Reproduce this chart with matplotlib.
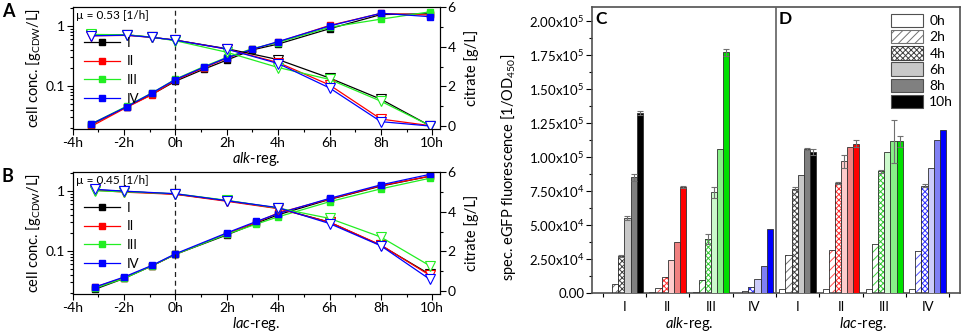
import numpy as np
import matplotlib
matplotlib.use("Agg")
import matplotlib.pyplot as plt
from matplotlib.patches import Patch
from matplotlib.ticker import MultipleLocator, FuncFormatter, FixedLocator, NullFormatter

plt.rcParams["font.family"] = ["Lato", "DejaVu Sans"]
plt.rcParams["mathtext.fontset"] = "custom"
plt.rcParams["mathtext.rm"] = "Lato"
plt.rcParams["mathtext.it"] = "Lato:italic"
plt.rcParams["mathtext.bf"] = "Lato:bold"
plt.rcParams["mathtext.default"] = "regular"
plt.rcParams["hatch.linewidth"] = 0.7

series_names = ["I", "II", "III", "IV"]
series_colors = ["#000000", "#ff0000", "#22ee22", "#0000ff"]

# panel A: alk-regulated, cell concentration (left, log) and citrate (right)
tA_cell = [-3.3, -1.9, -0.9, 0, 1.1, 2, 3, 4, 6, 8, 9.9]
A_cell_I = [0.0225, 0.045, 0.073, 0.12, 0.19, 0.27, 0.40, 0.50, 0.90, 1.55, 1.60]
A_cell_II = [0.021, 0.044, 0.072, 0.125, 0.20, 0.29, 0.41, 0.54, 1.02, 1.62, 1.52]
A_cell_III = [0.023, 0.046, 0.077, 0.13, 0.21, 0.30, 0.42, 0.53, 0.95, 1.30, 1.72]
A_cell_IV = [0.023, 0.045, 0.077, 0.128, 0.205, 0.295, 0.41, 0.55, 1.00, 1.63, 1.43]
tA_cit = [-3.3, -1.9, -0.9, 0, 2, 4, 6, 8, 9.9]
A_cit_I = [4.60, 4.60, 4.47, 4.33, 3.90, 3.35, 2.42, 1.35, 0.02]
A_cit_II = [4.55, 4.57, 4.47, 4.33, 3.88, 3.20, 2.07, 0.35, 0.02]
A_cit_III = [4.62, 4.60, 4.48, 4.30, 3.72, 2.95, 2.35, 1.25, 0.02]
A_cit_IV = [4.55, 4.58, 4.47, 4.33, 3.88, 3.15, 1.92, 0.22, 0.00]

# panel B: lac-regulated
tB_cell = [-3.15, -2.0, -0.9, 0, 2.0, 3.15, 4.0, 6.0, 8.0, 9.9]
B_cell_I = [0.023, 0.035, 0.057, 0.088, 0.185, 0.29, 0.40, 0.72, 1.20, 1.75]
B_cell_II = [0.025, 0.036, 0.057, 0.088, 0.195, 0.30, 0.43, 0.73, 1.22, 1.75]
B_cell_III = [0.024, 0.035, 0.057, 0.088, 0.19, 0.28, 0.37, 0.66, 1.08, 1.62]
B_cell_IV = [0.025, 0.037, 0.058, 0.090, 0.20, 0.31, 0.42, 0.75, 1.26, 1.88]
tB_cit = [-3.15, -2.0, 0, 2.0, 4.0, 6.0, 8.0, 9.9]
B_cit_I = [5.10, 5.02, 4.88, 4.55, 4.17, 3.47, 2.30, 0.85]
B_cit_II = [5.08, 4.98, 4.87, 4.52, 4.15, 3.47, 2.32, 0.80]
B_cit_III = [5.05, 5.00, 4.90, 4.57, 4.18, 3.66, 2.72, 1.28]
B_cit_IV = [5.12, 5.03, 4.90, 4.55, 4.20, 3.40, 2.28, 0.60]

# panels C/D: spec. eGFP fluorescence
sample_times = ["0h", "2h", "4h", "6h", "8h", "10h"]
group_labels = ["I", "II", "III", "IV", "I", "II", "III", "IV"]
alk_I = [300, 6600, 27400, 55100, 85000, 132300]
alk_II = [600, 3700, 11500, 24200, 37500, 77700]
alk_III = [500, 9800, 39700, 74000, 106000, 177200]
alk_IV = [300, 1700, 4400, 10500, 20100, 47000]
lac_I = [2900, 27700, 76700, 87000, 105900, 103700]
lac_II = [3300, 31800, 80900, 96800, 107300, 109800]
lac_III = [2900, 36000, 89400, 103400, 111500, 111500]
lac_IV = [2900, 31100, 78900, 91900, 112700, 120100]
alk_I_err = [0, 0, 700, 1500, 2800, 1300]
alk_II_err = [0, 0, 0, 0, 0, 700]
alk_III_err = [0, 0, 3500, 3800, 0, 2500]
alk_IV_err = [0, 0, 0, 0, 0, 0]
lac_I_err = [0, 0, 1000, 0, 800, 2200]
lac_II_err = [0, 0, 1000, 5000, 0, 2500]
lac_III_err = [0, 0, 800, 0, 16000, 4000]
lac_IV_err = [0, 0, 1200, 0, 0, 0]

# bar styles per strain: (fill colours for 0h..10h, hatch colours for 2h/4h)
shade_sets = [
    (["white", "white", "white", "#c8c8c8", "#808080", "#000000"], ["#707070", "#404040"]),
    (["white", "white", "white", "#ffcccc", "#f08080", "#ff0000"], ["#ff5050", "#ff3030"]),
    (["white", "white", "white", "#ccfacc", "#88f088", "#00e000"], ["#40d040", "#30c830"]),
    (["white", "white", "white", "#ccccfa", "#8080f4", "#0000ff"], ["#5050ff", "#3030ff"]),
]

fig = plt.figure(figsize=(9.64, 3.35), dpi=100)
axA = fig.add_axes([0.0754, 0.615, 0.381, 0.364])
axB = fig.add_axes([0.0754, 0.122, 0.381, 0.365])
axC = fig.add_axes([0.614, 0.1254, 0.382, 0.854])


def draw_growth(ax, t_cell, cells, t_cit, cits, mu_text, xlabel):
    ax2 = ax.twinx()
    for name, col, c in zip(series_names, series_colors, cells):
        ax.plot(t_cell, c, "-s", color=col, lw=0.9, ms=4, label=name)
    for col, c in zip(series_colors, cits):
        ax2.plot(t_cit, c, "-v", color=col, lw=0.9, ms=7, mfc="white", mew=0.8)
    ax.axvline(0, color="#202020", ls=(0, (4, 3)), lw=0.9)
    ax.set_yscale("log")
    ax.set_ylim(0.0192, 2.07)
    ax.set_xlim(-4, 10.3)
    ax2.set_ylim(-0.15, 6.0)
    ax.yaxis.set_major_locator(FixedLocator([0.1, 1]))
    ax.yaxis.set_major_formatter(FuncFormatter(lambda v, p: f"{v:g}"))
    ax.yaxis.set_minor_formatter(NullFormatter())
    ax.xaxis.set_major_locator(MultipleLocator(2))
    ax.xaxis.set_minor_locator(MultipleLocator(1))
    ax.xaxis.set_major_formatter(FuncFormatter(lambda v, p: f"{int(round(v))}h"))
    ax2.yaxis.set_major_locator(MultipleLocator(2))
    ax2.yaxis.set_minor_locator(MultipleLocator(1))
    for a in (ax, ax2):
        a.tick_params(which="both", direction="out", labelsize=10, width=0.8)
        a.tick_params(which="major", length=4, pad=1.5)
        a.tick_params(which="minor", length=2.5)
    ax.set_ylabel("cell conc. [g$_{CDW}$/L]", fontsize=10.5, labelpad=2)
    ax2.set_ylabel("citrate [g/L]", fontsize=10.5, labelpad=6)
    ax.set_xlabel(xlabel, fontsize=10.5, labelpad=1)
    ax.text(0.008, 0.975, mu_text, transform=ax.transAxes, fontsize=8.5, va="top", ha="left")
    ax2.legend(*ax.get_legend_handles_labels(), loc="upper left",
               bbox_to_anchor=(0.01, 0.82), frameon=False, fontsize=9.5,
               handlelength=2.7, labelspacing=0.5, borderaxespad=0.2, handletextpad=0.5)
    return ax2


draw_growth(axA, tA_cell, [A_cell_I, A_cell_II, A_cell_III, A_cell_IV],
            tA_cit, [A_cit_I, A_cit_II, A_cit_III, A_cit_IV],
            "\u00b5 = 0.53 [1/h]", r"$\it{alk}$-reg.")
draw_growth(axB, tB_cell, [B_cell_I, B_cell_II, B_cell_III, B_cell_IV],
            tB_cit, [B_cit_I, B_cit_II, B_cit_III, B_cit_IV],
            "\u00b5 = 0.45 [1/h]", r"$\it{lac}$-reg.")

fig.text(0.002, 0.99, "A", fontsize=13, fontweight="bold", va="top")
fig.text(0.002, 0.50, "B", fontsize=13, fontweight="bold", va="top")

# bar chart C + D
groups = [alk_I, alk_II, alk_III, alk_IV, lac_I, lac_II, lac_III, lac_IV]
group_errs = [alk_I_err, alk_II_err, alk_III_err, alk_IV_err,
              lac_I_err, lac_II_err, lac_III_err, lac_IV_err]
w = 0.142
edge = "#303030"
for g, (vals, errs) in enumerate(zip(groups, group_errs)):
    fills, hatch_cols = shade_sets[g % 4]
    for k, (v, e) in enumerate(zip(vals, errs)):
        x = g + (k - 2.5) * w
        if k == 1:
            axC.bar(x, v, w, color="white", edgecolor=hatch_cols[0], hatch="////", lw=0, zorder=2)
            axC.bar(x, v, w, fill=False, edgecolor=edge, lw=0.6, zorder=3)
        elif k == 2:
            axC.bar(x, v, w, color="white", edgecolor=hatch_cols[1], hatch="xxxxxx", lw=0, zorder=2)
            axC.bar(x, v, w, fill=False, edgecolor=edge, lw=0.6, zorder=3)
        else:
            axC.bar(x, v, w, color=fills[k], edgecolor=edge, lw=0.6, zorder=3)
        if e > 0:
            axC.errorbar(x, v, yerr=e, color="#707070", lw=0.8, capsize=2, capthick=0.8, zorder=4)

axC.axvline(3.5, color="#606060", lw=1.2, zorder=5)
axC.set_xlim(-0.75, 7.75)
axC.set_ylim(0, 2.105e5)
axC.set_xticks(range(8))
axC.set_xticklabels(group_labels)
axC.xaxis.set_minor_locator(FixedLocator(np.arange(-0.5, 8, 1.0)))
axC.tick_params(axis="x", which="major", length=0, labelsize=9.5, pad=6)
axC.tick_params(axis="x", which="minor", length=3, direction="out", width=0.8)
axC.yaxis.set_major_locator(FixedLocator(np.arange(0, 2.01e5, 25000)))
axC.yaxis.set_minor_locator(FixedLocator(np.arange(12500, 2.1e5, 25000)))


def sci_label(v, pos):
    if v <= 0:
        return "0.00"
    e = int(np.floor(np.log10(v) + 1e-9))
    return f"{v / 10 ** e:.2f}x10$^{{{e}}}$"


axC.yaxis.set_major_formatter(FuncFormatter(sci_label))
axC.tick_params(axis="y", which="both", direction="out", labelsize=9.5, width=0.8)
axC.tick_params(axis="y", which="major", length=4, pad=1.5)
axC.tick_params(axis="y", which="minor", length=2.5)
for s in axC.spines.values():
    s.set_color("#505050")
    s.set_linewidth(1.2)
axC.set_ylabel("spec. eGFP fluorescence [1/OD$_{450}$]", fontsize=10.5)
axC.yaxis.set_label_coords(-0.2, 0.44)
axC.text(1.5, -0.11, r"$\it{alk}$-reg.", transform=axC.get_xaxis_transform(), ha="center", va="center", fontsize=10.5)
axC.text(5.5, -0.11, r"$\it{lac}$-reg.", transform=axC.get_xaxis_transform(), ha="center", va="center", fontsize=10.5)
axC.text(-0.68, 0.985, "C", transform=axC.get_xaxis_transform(), fontsize=12.5, fontweight="bold", va="top")
axC.text(3.57, 0.985, "D", transform=axC.get_xaxis_transform(), fontsize=12.5, fontweight="bold", va="top")

fills, hatch_cols = shade_sets[0]
legend_handles = []
for k, lab in enumerate(sample_times):
    if k == 1:
        h = Patch(facecolor="white", edgecolor="#707070", hatch="////", lw=0.8, label=lab)
    elif k == 2:
        h = Patch(facecolor="white", edgecolor="#404040", hatch="xxxxxx", lw=0.8, label=lab)
    else:
        h = Patch(facecolor=fills[k], edgecolor="#505050", lw=0.8, label=lab)
    legend_handles.append(h)
axC.legend(handles=legend_handles, loc="upper right", frameon=False, fontsize=10,
           handlelength=2.3, handleheight=1.1, labelspacing=0.2,
           borderaxespad=0.3, borderpad=0.2, handletextpad=0.45)

fig.savefig("out.png", dpi=100)
